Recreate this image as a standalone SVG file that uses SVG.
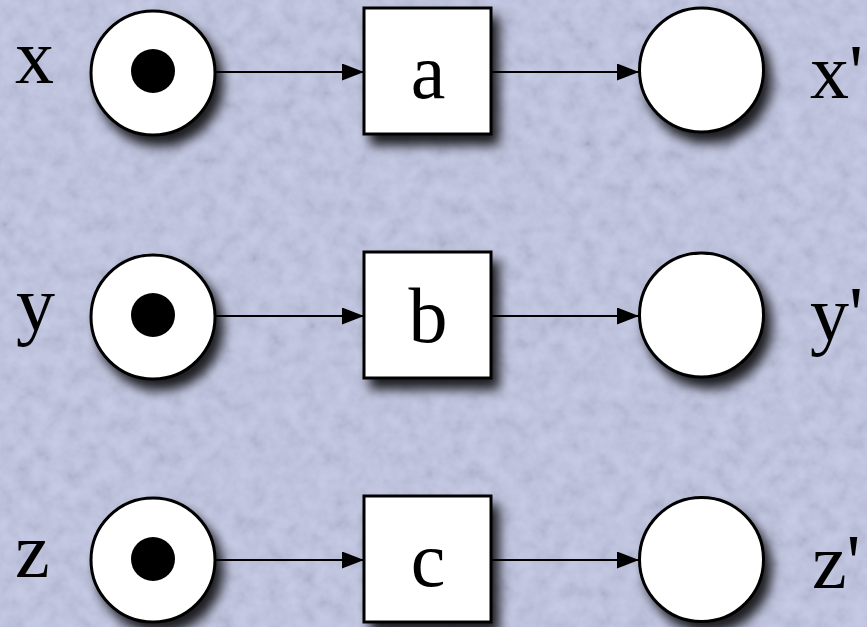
<svg xmlns="http://www.w3.org/2000/svg" width="867" height="627" viewBox="0 0 867 627">
  <defs>
    <style>
      .place { fill: #ffffff; stroke: #000000; stroke-width: 3; }
      .token { fill: #000000; }
      .trans { fill: #ffffff; stroke: #000000; stroke-width: 3; }
      .arc { stroke: #000000; stroke-width: 2; fill: none; marker-end: url(#head); }
      .lbl { font-family: "Liberation Serif", "Times New Roman", serif; font-size: 78px; fill: #000000; }
      .mid { text-anchor: middle; }
    </style>
    <!-- paper grain for the backdrop -->
    <filter id="paper" x="0" y="0" width="867" height="627" filterUnits="userSpaceOnUse">
      <feTurbulence type="fractalNoise" baseFrequency="0.06" numOctaves="3" seed="7" result="n"/>
      <feColorMatrix in="n" type="matrix"
        values="1.2 0 0 0 -0.1
                1.2 0 0 0 -0.1
                1.2 0 0 0 -0.1
                0 0 0 0 0.14"/>
    </filter>
    <!-- soft drop shadow under nodes -->
    <filter id="shadow" x="-30%" y="-30%" width="170%" height="170%">
      <feDropShadow dx="7" dy="10" stdDeviation="6" flood-color="#000000" flood-opacity="0.85"/>
    </filter>
    <marker id="head" markerUnits="userSpaceOnUse" markerWidth="22" markerHeight="17" refX="22" refY="8.5" orient="auto">
      <path d="M0,0 L22,8.5 L0,17 Z" fill="#000000"/>
    </marker>
  </defs>

  <!-- backdrop -->
  <rect x="0" y="0" width="867" height="627" fill="#bfc4e2"/>
  <rect x="0" y="0" width="867" height="627" filter="url(#paper)"/>

  <!-- connectors -->
  <g id="arcs">
    <line class="arc" x1="216" y1="72" x2="364" y2="72"/>
    <line class="arc" x1="491" y1="72" x2="639" y2="72"/>
    <line class="arc" x1="216" y1="316" x2="364" y2="316"/>
    <line class="arc" x1="491" y1="316" x2="639" y2="316"/>
    <line class="arc" x1="216" y1="560" x2="364" y2="560"/>
    <line class="arc" x1="491" y1="560" x2="639" y2="560"/>
  </g>

  <!-- input places with tokens -->
  <g id="place-x">
    <circle class="place" cx="153" cy="73" r="62" filter="url(#shadow)"/>
    <circle class="token" cx="153" cy="71" r="22"/>
    <text class="lbl" x="15" y="83">x</text>
  </g>
  <g id="place-y">
    <circle class="place" cx="153" cy="317" r="62" filter="url(#shadow)"/>
    <circle class="token" cx="153" cy="315" r="22"/>
    <text class="lbl" x="16" y="330">y</text>
  </g>
  <g id="place-z">
    <circle class="place" cx="153" cy="560" r="62" filter="url(#shadow)"/>
    <circle class="token" cx="153" cy="559" r="22"/>
    <text class="lbl" x="15" y="577">z</text>
  </g>

  <!-- transitions -->
  <g id="trans-a">
    <rect class="trans" x="364" y="8" width="127" height="126" filter="url(#shadow)"/>
    <text class="lbl mid" x="428" y="98">a</text>
  </g>
  <g id="trans-b">
    <rect class="trans" x="364" y="252" width="127" height="126" filter="url(#shadow)"/>
    <text class="lbl mid" x="428" y="342">b</text>
  </g>
  <g id="trans-c">
    <rect class="trans" x="364" y="496" width="127" height="126" filter="url(#shadow)"/>
    <text class="lbl mid" x="428" y="586">c</text>
  </g>

  <!-- output places -->
  <g id="place-x2">
    <circle class="place" cx="701.5" cy="70" r="62" filter="url(#shadow)"/>
    <text class="lbl" x="810" y="98">x'</text>
  </g>
  <g id="place-y2">
    <circle class="place" cx="701.5" cy="315" r="62" filter="url(#shadow)"/>
    <text class="lbl" x="810" y="340">y'</text>
  </g>
  <g id="place-z2">
    <circle class="place" cx="701.5" cy="559.5" r="62" filter="url(#shadow)"/>
    <text class="lbl" x="812" y="588">z'</text>
  </g>
</svg>
